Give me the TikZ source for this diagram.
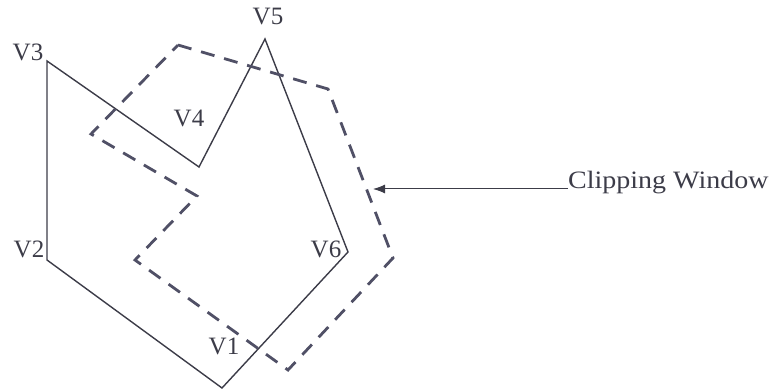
\documentclass[tikz,border=0pt]{standalone}
\usepackage{fontspec}
\setmainfont{Liberation Serif}
\usepackage{xcolor}
\usetikzlibrary{arrows.meta, positioning}
\definecolor{PolyGray}{RGB}{60, 60, 72}
\definecolor{WinGray}{RGB}{80, 80, 102}

\begin{document}
\begin{tikzpicture}[
    x=1pt, y=-1pt,
    poly/.style={draw=PolyGray, line width=1.4pt, line join=miter},
    win/.style={draw=WinGray, line width=2.8pt, dash pattern=on 14pt off 10pt},
    vlabel/.style={text=PolyGray, font=\fontsize{25}{28}\selectfont, inner sep=0pt},
    arr/.style={-{Latex[length=12pt,width=9pt]}, draw=PolyGray, line width=1pt}
]
\useasboundingbox (0,0) rectangle (777,390);

% subject polygon
\coordinate (v1) at (222,388);
\coordinate (v2) at (47,260);
\coordinate (v3) at (47,61);
\coordinate (v4) at (199,167);
\coordinate (v5) at (265,39);
\coordinate (v6) at (348,252);

\draw[poly] (v1) -- (v2) -- (v3) -- (v4) -- (v5) -- (v6) -- cycle;

% clipping window
\coordinate (w1) at (178,45);
\coordinate (w2) at (328,89);
\coordinate (w3) at (393,258);
\coordinate (w4) at (288,370);
\coordinate (w5) at (135,260);
\coordinate (w6) at (197,196);
\coordinate (w7) at (91,134);

\draw[win] (w1) -- (w2) -- (w3) -- (w4) -- (w5) -- (w6) -- (w7) -- cycle;

% vertex labels
\node[vlabel] (l3) at (28,52)  {V3};
\node[vlabel] (l5) at (268,17) {V5};
\node[vlabel] (l4) at (189,118) {V4};
\node[vlabel] (l2) at (29,249) {V2};
\node[vlabel] (l6) at (326,249) {V6};
\node[vlabel] (l1) at (224,346) {V1};

% pointer to the window
\node[vlabel, anchor=base west] (cw) at (568,189)
    {\scalebox{1.12}[1]{Clipping Window}};
\coordinate (tip) at (373,189);
\draw[arr] (cw.base west) -- (tip);

\end{tikzpicture}
\end{document}
